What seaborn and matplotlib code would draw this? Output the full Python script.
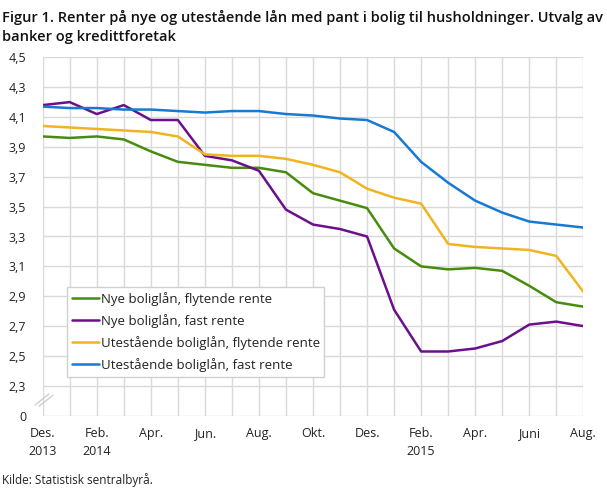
import matplotlib
matplotlib.use("Agg")
import matplotlib.pyplot as plt
import seaborn as sns
import pandas as pd
import numpy as np
from matplotlib.lines import Line2D

# ---- data ----
months = ["2013-12", "2014-01", "2014-02", "2014-03", "2014-04", "2014-05", "2014-06",
          "2014-07", "2014-08", "2014-09", "2014-10", "2014-11", "2014-12", "2015-01",
          "2015-02", "2015-03", "2015-04", "2015-05", "2015-06", "2015-07", "2015-08"]
nye_flytende = [3.97, 3.96, 3.97, 3.95, 3.87, 3.80, 3.78, 3.76, 3.76, 3.73, 3.59,
                3.54, 3.49, 3.22, 3.10, 3.08, 3.09, 3.07, 2.97, 2.86, 2.83]
nye_fast = [4.18, 4.20, 4.12, 4.18, 4.08, 4.08, 3.84, 3.81, 3.74, 3.48, 3.38,
            3.35, 3.30, 2.81, 2.53, 2.53, 2.55, 2.60, 2.71, 2.73, 2.70]
ute_flytende = [4.04, 4.03, 4.02, 4.01, 4.00, 3.97, 3.85, 3.84, 3.84, 3.82, 3.78,
                3.73, 3.62, 3.56, 3.52, 3.25, 3.23, 3.22, 3.21, 3.17, 2.93]
ute_fast = [4.17, 4.16, 4.16, 4.15, 4.15, 4.14, 4.13, 4.14, 4.14, 4.12, 4.11,
            4.09, 4.08, 4.00, 3.80, 3.66, 3.54, 3.46, 3.40, 3.38, 3.36]
series_names = ["Nye boliglån, flytende rente", "Nye boliglån, fast rente",
                "Utestående boliglån, flytende rente", "Utestående boliglån, fast rente"]
xtick_labels = ["Des.\n2013", "Feb.\n2014", "Apr.", "Jun.", "Aug.", "Okt.", "Des.",
                "Feb.\n2015", "Apr.", "Juni", "Aug."]
ytick_values = [2.1, 2.3, 2.5, 2.7, 2.9, 3.1, 3.3, 3.5, 3.7, 3.9, 4.1, 4.3, 4.5]
ytick_labels = ["0", "2,3", "2,5", "2,7", "2,9", "3,1", "3,3", "3,5", "3,7", "3,9", "4,1", "4,3", "4,5"]
title_lines = ["Figur 1. Renter på nye og utestående lån med pant i bolig til husholdninger. Utvalg av",
               "banker og kredittforetak"]
source_text = "Kilde: Statistisk sentralbyrå."
colors = ["#478c0f", "#6c0f8c", "#f0b41e", "#1779d4"]

rows = []
for name, vals in zip(series_names, [nye_flytende, nye_fast, ute_flytende, ute_fast]):
    for i, (m, v) in enumerate(zip(months, vals)):
        rows.append({"idx": i, "month": m, "value": v, "series": name})
df = pd.DataFrame(rows)

sns.set_theme(style="white")
plt.rcParams["font.family"] = ["Open Sans", "DejaVu Sans"]

W, H = 607, 488
fig = plt.figure(figsize=(W / 100, H / 100), dpi=100)
ax = fig.add_axes([42.7 / W, 1 - 415.7 / H, (583.3 - 42.7) / W, (415.7 - 57.3) / H])

sns.lineplot(data=df, x="idx", y="value", hue="series", hue_order=series_names,
             palette=colors, linewidth=1.8, ax=ax, legend=False)

ax.set_xlim(0, len(months) - 1)
ax.set_ylim(2.1, 4.5)
ax.set_xticks(range(0, len(months), 2))
ax.set_xticklabels(xtick_labels, fontsize=9, color="#222222", linespacing=1.55)
ax.set_yticks(ytick_values)
ax.set_yticklabels(ytick_labels, fontsize=9, color="#222222")
ax.set_xticks(range(len(months)), minor=True)
ax.grid(True, which="both", color="#d9d9d9", linewidth=1.0)
ax.tick_params(axis="both", which="both", length=0)
ax.tick_params(axis="x", pad=8)
ax.tick_params(axis="y", pad=12)
ax.set_xlabel("")
ax.set_ylabel("")
for s in ax.spines.values():
    s.set_visible(False)
ax.set_axisbelow(True)

handles = [Line2D([0], [0], color=c, linewidth=1.8) for c in colors]
leg = ax.legend(handles, series_names, loc="lower left", bbox_to_anchor=(0.045, 0.109),
                fontsize=9.5, frameon=True, fancybox=False, framealpha=1,
                edgecolor="#d0d0d0", handlelength=2.1, handletextpad=0.1,
                labelspacing=0.62, borderpad=0.35, borderaxespad=0)
leg.get_frame().set_linewidth(1.0)
for t in leg.get_texts():
    t.set_color("#222222")

fig.text(2 / W, 1 - 22 / H, title_lines[0], ha="left", va="baseline",
         fontsize=10.5, fontweight="semibold", color="#111111")
fig.text(2 / W, 1 - 41 / H, title_lines[1], ha="left", va="baseline",
         fontsize=10.5, fontweight="semibold", color="#111111")
fig.text(2 / W, 1 - 484 / H, source_text, ha="left", va="baseline",
         fontsize=8.5, color="#222222")

# axis break marks
for dx in (0, 4):
    fig.add_artist(Line2D([(35 + dx) / W, (49 + dx) / W],
                          [1 - (405 + dx * 0.3) / H, 1 - (394 + dx * 0.3) / H],
                          color="#cfcfcf", linewidth=1.0))

fig.savefig("out.png", dpi=100)
